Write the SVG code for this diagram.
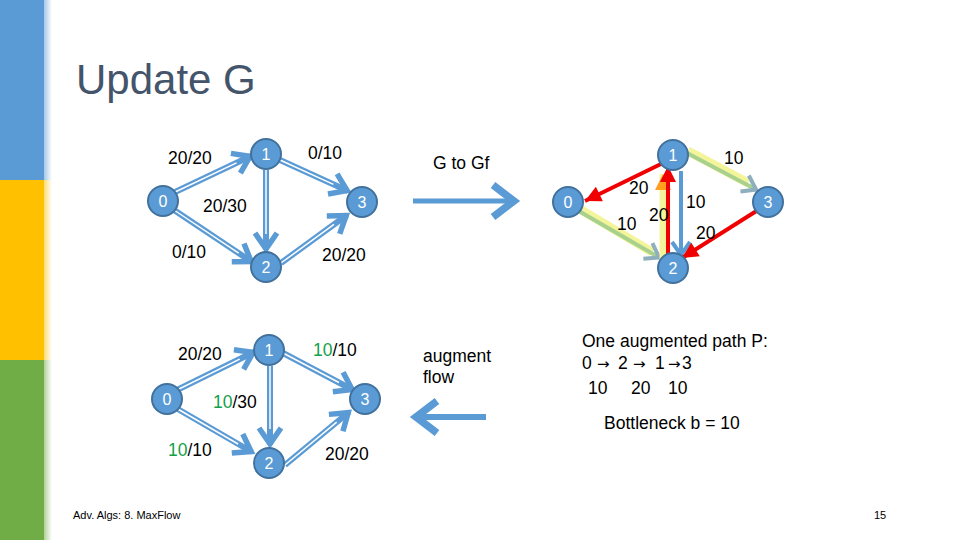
<svg xmlns="http://www.w3.org/2000/svg" width="960" height="540" viewBox="0 0 960 540">
<defs>
<style>
.node circle{fill:#5B9BD5;stroke:#41719C;stroke-width:2}
.node text{fill:#fff;font-family:"Liberation Sans",Arial,sans-serif;font-size:16px;text-anchor:middle}
.lbl{font-family:"Liberation Sans",Arial,sans-serif;font-size:17.5px;fill:#000}
.ar{font-family:"DejaVu Sans",sans-serif;font-size:15px}
.g{fill:#14A04A}
.be{stroke:#5B9BD5;stroke-width:6;fill:none;marker-end:url(#chevBlue)}
.wc{stroke:#fff;stroke-width:1.5;fill:none}
.red{stroke:#F00000;stroke-width:4;fill:none;marker-end:url(#triRed)}
.grn{stroke:#A9D18E;stroke-width:4;fill:none;marker-end:url(#chevGray)}
.glow{stroke:#F4F49A;stroke-width:9;fill:none}
.blu{stroke:#5B9BD5;stroke-width:4;fill:none;marker-end:url(#chevBlue2)}
</style>
<marker id="chevBlue" markerUnits="userSpaceOnUse" markerWidth="26" markerHeight="30" viewBox="0 0 26 30" refX="21" refY="15" orient="auto">
<path d="M4,4 L20,15 L4,26" fill="none" stroke="#5B9BD5" stroke-width="5.5"/>
</marker>
<marker id="chevBlue2" markerUnits="userSpaceOnUse" markerWidth="22" markerHeight="26" viewBox="0 0 22 26" refX="18" refY="13" orient="auto">
<path d="M4,4 L17,13 L4,22" fill="none" stroke="#5B9BD5" stroke-width="4"/>
</marker>
<marker id="chevGray" markerUnits="userSpaceOnUse" markerWidth="22" markerHeight="26" viewBox="0 0 22 26" refX="18" refY="13" orient="auto">
<path d="M4,4 L17,13 L4,22" fill="none" stroke="#8FAFBF" stroke-width="4"/>
</marker>
<marker id="triRed" markerUnits="userSpaceOnUse" markerWidth="20" markerHeight="20" viewBox="0 0 20 20" refX="18" refY="10" orient="auto">
<path d="M2,2 L18,10 L2,18 Z" fill="#F00000"/>
</marker>
<marker id="triOrange" markerUnits="userSpaceOnUse" markerWidth="20" markerHeight="20" viewBox="0 0 20 20" refX="18" refY="10" orient="auto">
<path d="M2,2 L18,10 L2,18 Z" fill="#FFA020"/>
</marker>
<marker id="bigChev" markerUnits="userSpaceOnUse" markerWidth="36" markerHeight="44" viewBox="0 0 36 44" refX="30" refY="22" orient="auto">
<path d="M8,6 L29,22 L8,38" fill="none" stroke="#5B9BD5" stroke-width="7.5"/>
</marker>
<linearGradient id="fade" x1="0" y1="0" x2="1" y2="0">
<stop offset="0" stop-color="#fff" stop-opacity="0.45"/>
<stop offset="1" stop-color="#fff" stop-opacity="1"/>
</linearGradient>
</defs>
<rect width="960" height="540" fill="#fff"/>
<g id="sidebar">
<rect x="0" y="0" width="52" height="180" fill="#5B9BD5"/>
<rect x="0" y="180" width="52" height="180" fill="#FFC000"/>
<rect x="0" y="360" width="52" height="180" fill="#70AD47"/>
<rect x="44" y="0" width="8" height="540" fill="url(#fade)"/>
</g>
<text x="76" y="94" font-family="'Liberation Sans',Arial,sans-serif" font-size="42" fill="#44546A">Update G</text>

<g id="connectors">
<!-- top-left G -->
<line class="be" x1="173" y1="193" x2="251" y2="156"/>
<line class="wc" x1="173" y1="193" x2="236.5" y2="162.9"/>
<line class="be" x1="280" y1="160" x2="348" y2="191"/>
<line class="wc" x1="280" y1="160" x2="333.4" y2="184.4"/>
<line class="be" x1="266" y1="170" x2="266" y2="250"/>
<line class="wc" x1="266" y1="170" x2="266" y2="234"/>
<line class="be" x1="174" y1="210" x2="252" y2="262"/>
<line class="wc" x1="174" y1="210" x2="238.7" y2="253.1"/>
<line class="be" x1="281" y1="263" x2="347" y2="215"/>
<line class="wc" x1="281" y1="263" x2="334" y2="224.4"/>
<!-- bottom-left G -->
<line class="be" x1="177" y1="390" x2="254" y2="352"/>
<line class="wc" x1="177" y1="390" x2="239.7" y2="359.1"/>
<line class="be" x1="283" y1="353" x2="353" y2="390"/>
<line class="wc" x1="283" y1="353" x2="338.9" y2="382.5"/>
<line class="be" x1="270" y1="366" x2="270" y2="445"/>
<line class="wc" x1="270" y1="366" x2="270" y2="429"/>
<line class="be" x1="176" y1="408" x2="252" y2="452"/>
<line class="wc" x1="176" y1="408" x2="238.1" y2="444"/>
<line class="be" x1="285" y1="465" x2="349" y2="412"/>
<line class="wc" x1="285" y1="465" x2="336.7" y2="422.2"/>
<!-- Gf -->
<line class="glow" x1="578" y1="208" x2="652" y2="252"/>
<line class="grn" x1="577" y1="210" x2="660" y2="258"/>
<line class="glow" x1="688" y1="151" x2="748" y2="183"/>
<line class="grn" x1="687" y1="153" x2="757" y2="190"/>
<line stroke="#F4F49A" stroke-width="7" x1="663" y1="260" x2="663" y2="174" marker-end="url(#triOrange)"/>
<line class="red" x1="668" y1="262" x2="668" y2="166"/>
<line class="blu" x1="681" y1="171" x2="681" y2="256"/>
<line class="red" x1="663" y1="163" x2="585" y2="201"/>
<line class="red" x1="758" y1="210" x2="682" y2="258"/>
<!-- big arrows -->
<line stroke="#5B9BD5" stroke-width="5" x1="413" y1="201" x2="515" y2="201" marker-end="url(#bigChev)"/>
<line stroke="#5B9BD5" stroke-width="6" x1="486" y1="417" x2="415" y2="417" marker-end="url(#bigChev)"/>
</g>

<g id="G-n0" class="node"><circle cx="163" cy="201" r="15"/><text x="163" y="207">0</text></g>
<g id="G-n1" class="node"><circle cx="266" cy="154" r="15"/><text x="266" y="160">1</text></g>
<g id="G-n2" class="node"><circle cx="266" cy="267" r="15"/><text x="266" y="273">2</text></g>
<g id="G-n3" class="node"><circle cx="362" cy="202" r="15"/><text x="362" y="208">3</text></g>

<g id="Gf-n0" class="node"><circle cx="568" cy="202" r="15"/><text x="568" y="208">0</text></g>
<g id="Gf-n1" class="node"><circle cx="673" cy="155" r="15"/><text x="673" y="161">1</text></g>
<g id="Gf-n2" class="node"><circle cx="673" cy="268" r="15"/><text x="673" y="274">2</text></g>
<g id="Gf-n3" class="node"><circle cx="768" cy="202" r="15"/><text x="768" y="208">3</text></g>

<g id="G2-n0" class="node"><circle cx="167" cy="399" r="15"/><text x="167" y="405">0</text></g>
<g id="G2-n1" class="node"><circle cx="269" cy="350" r="15"/><text x="269" y="356">1</text></g>
<g id="G2-n2" class="node"><circle cx="269" cy="463" r="15"/><text x="269" y="469">2</text></g>
<g id="G2-n3" class="node"><circle cx="365" cy="399" r="15"/><text x="365" y="405">3</text></g>

<g id="labels">
<text class="lbl" x="168" y="164">20/20</text>
<text class="lbl" x="308" y="159">0/10</text>
<text class="lbl" x="203" y="212">20/30</text>
<text class="lbl" x="172" y="258">0/10</text>
<text class="lbl" x="322" y="261">20/20</text>

<text class="lbl" x="178" y="360">20/20</text>
<text class="lbl" x="313" y="356"><tspan class="g">10</tspan>/10</text>
<text class="lbl" x="213" y="408"><tspan class="g">10</tspan>/30</text>
<text class="lbl" x="168" y="456"><tspan class="g">10</tspan>/10</text>
<text class="lbl" x="325" y="460">20/20</text>

<text class="lbl" x="724" y="164">10</text>
<text class="lbl" x="629" y="194">20</text>
<text class="lbl" x="686" y="208">10</text>
<text class="lbl" x="649" y="221">20</text>
<text class="lbl" x="617" y="230">10</text>
<text class="lbl" x="696" y="239">20</text>

<text class="lbl" x="433" y="169">G to Gf</text>
<text class="lbl" x="423" y="362">augment</text>
<text class="lbl" x="423" y="383">flow</text>
<text class="lbl" x="582" y="347">One augmented path P:</text>
<text class="lbl" y="369"><tspan x="582">0</tspan><tspan class="ar" x="597">→</tspan><tspan x="618">2</tspan><tspan class="ar" x="633">→</tspan><tspan x="655">1</tspan><tspan class="ar" x="668">→</tspan><tspan x="682">3</tspan></text>
<text class="lbl" y="394"><tspan x="588">10</tspan><tspan x="631">20</tspan><tspan x="668">10</tspan></text>
<text class="lbl" x="604" y="429">Bottleneck b = 10</text>
</g>
<text x="73" y="519" font-family="'Liberation Sans',Arial,sans-serif" font-size="11" fill="#000">Adv. Algs: 8. MaxFlow</text>
<text x="874" y="519" font-family="'Liberation Sans',Arial,sans-serif" font-size="11" fill="#000">15</text>
</svg>
